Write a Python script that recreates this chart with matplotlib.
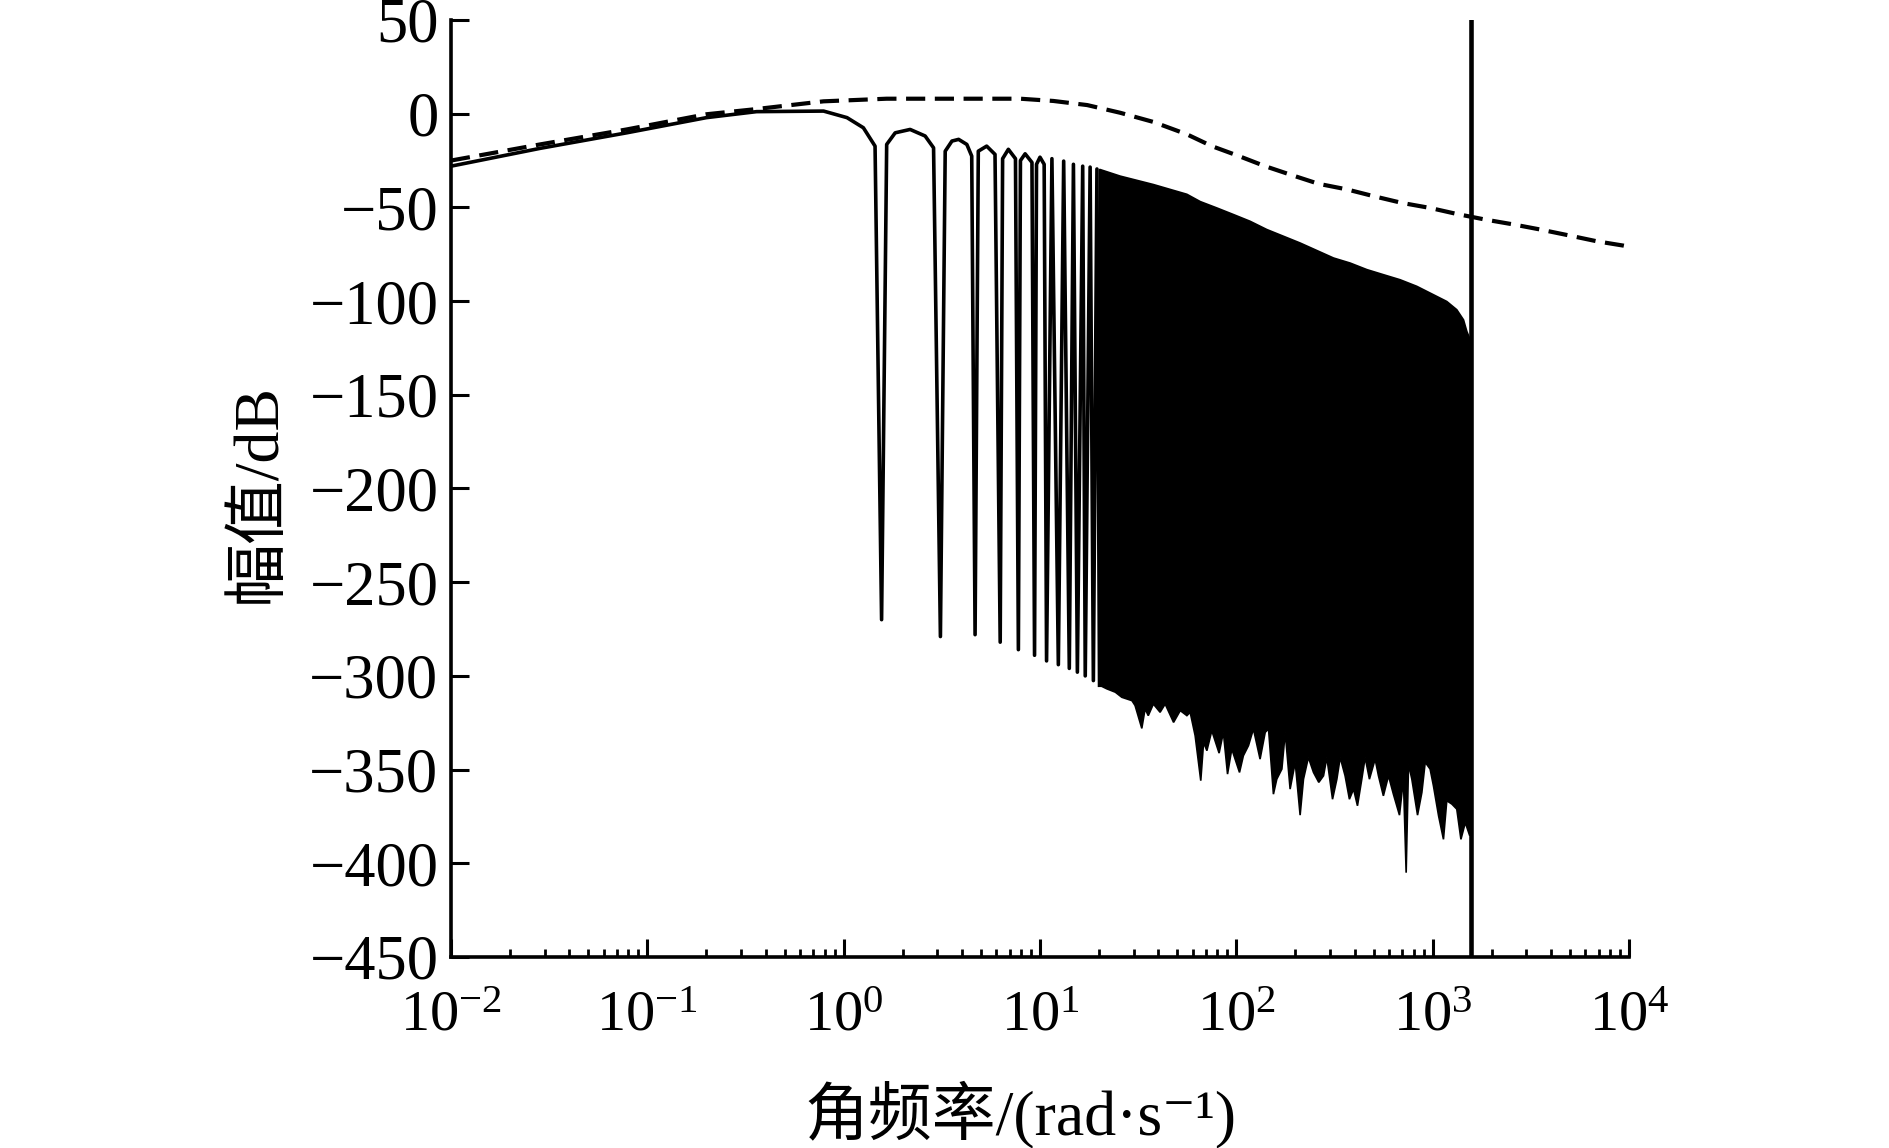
import numpy as np
import matplotlib.pyplot as plt

plt.rcParams['font.family'] = ['Liberation Serif', 'Noto Sans CJK SC', 'DejaVu Serif']
plt.rcParams['mathtext.fontset'] = 'custom'
plt.rcParams['mathtext.rm'] = 'Liberation Serif'
plt.rcParams['mathtext.it'] = 'Liberation Serif:italic'
plt.rcParams['axes.unicode_minus'] = True

# 虚线 (角频率 rad/s, 幅值 dB)
dash_w = [0.01, 0.0284, 0.0785, 0.20, 0.347, 0.789, 1.656, 3.62, 7.93, 11.7, 17.4,
          25.6, 37.8, 56.0, 75.0, 103, 140, 192, 262, 366, 500, 697, 971, 1327,
          1854, 2582, 3532, 4920, 6870, 9380, 10000]
dash_db = [-25, -16.4, -8.4, -0.3, 2.3, 6.6, 8.0, 8.0, 8.0, 6.8, 4.6,
           0.5, -4.4, -11, -17.3, -22.6, -28.0, -32.8, -37.4, -40.4, -44.0, -47.6, -50.3, -53.5,
           -56.5, -59.1, -61.8, -64.9, -68.1, -70.4, -71]

# 实线: 低频段及前几个陷波
solid_w = [0.01, 0.0284, 0.0785, 0.200, 0.36, 0.79, 1.04, 1.26, 1.445, 1.56,
           1.656, 1.83, 2.18, 2.60, 2.87, 3.11,
           3.29, 3.56, 3.85, 4.24, 4.49, 4.67,
           4.85, 5.35, 5.9, 6.27,
           6.45, 6.9, 7.5, 7.76,
           7.95, 8.4, 9.1, 9.38,
           9.6, 10.0, 10.5, 10.8,
           11.5, 12.4, 13.2, 14.1, 14.8, 15.5, 16.5, 17.0, 18.0, 18.7, 19.5, 20.1]
solid_db = [-28, -18.5, -10.2, -2.1, 1.1, 1.4, -2.1, -7.5, -17.3, -270,
            -16.4, -10.2, -8.4, -11.9, -18.2, -279,
            -20, -14.6, -13.7, -16.4, -22.6, -278,
            -20, -17.3, -21.7, -282,
            -24, -19, -24, -286,
            -25, -21.4, -26, -289,
            -27, -23.2, -27, -292,
            -24, -294, -25.3, -296, -27, -298, -28, -300, -28.5, -302.5, -29.5, -305]

# 实线密集区: 上包络
env_w = [20.1, 25.6, 37.8, 56.0, 65.5, 79.6, 96.6, 117.5, 142.9, 173.8, 211.3, 257.0,
         312.6, 380.0, 462.2, 561.0, 682.3, 829.6, 1009, 1180, 1327, 1436, 1493, 1545]
env_db = [-29.7, -33.3, -37.8, -43, -46.9, -50.3, -53.8, -57.4, -61.8, -65.4, -69.0, -73.0,
          -77.0, -79.7, -83.2, -85.9, -88.6, -92.1, -96.6, -100.2, -104.6, -110, -116.2, -120]

# 实线密集区: 下边缘
low_w = [20.2, 21.9, 24.2, 26.1, 29.4, 30.5, 33.0, 34.3, 35.6, 37.8, 40.9, 43.4,
         47.9, 51.8, 56.0, 58.2, 61.7, 65.9, 68.1, 70.8, 75.0, 81.7, 85.9, 90.2,
         94.8, 103.8, 108.6, 115.3, 122.2, 132.1, 140.3, 145.9, 154.5, 160.7, 170.6,
         177.4, 187.9, 199.5, 211.3, 219.8, 232.8, 247.2, 263.0, 278.0, 289.1, 309.0,
         325.1, 338.1, 358.1, 376.7, 395.4, 414.0, 435.5, 452.9, 476.4, 509.3, 529.6,
         561.0, 595.7, 631.0, 677.6, 709.6, 732.8, 753.4, 783.4, 837.5, 881.0, 916.2,
         970.5, 1009, 1072, 1135, 1180, 1253, 1327, 1393, 1466, 1545]
low_db = [-305.1, -306.9, -308.7, -311.4, -313.2, -315.8, -328.0, -317.6, -321.2,
          -315.0, -319.4, -315.0, -324.8, -318.5, -321.2, -319.4, -331.9, -355.9,
          -335.5, -339.9, -329.2, -341.2, -330.1, -352.4, -339.0, -351.5, -342.6,
          -337.2, -328.3, -344.4, -330.1, -328.3, -363.1, -355.1, -349.7, -330.1,
          -360.4, -346.1, -374.3, -355.1, -343.5, -351.5, -356.8, -353.3, -343.5,
          -365.8, -355.1, -343.5, -353.3, -365.8, -360.4, -369.3, -355.1, -343.5,
          -355.1, -344.4, -353.3, -364.0, -353.3, -363.1, -374.3, -355.1, -405.0,
          -347.1, -355.1, -374.3, -362.2, -346.1, -349.7, -358.6, -374.7, -387.2,
          -366.6, -368.4, -371.1, -387.2, -378.3, -385.3]

nyquist_w = 1560

fig = plt.figure(figsize=(18.89, 11.48), dpi=100)
ax = fig.add_axes([451 / 1889, 191 / 1148, 1178 / 1889, 937 / 1148])

ax.plot(dash_w, dash_db, color='k', lw=3.0, linestyle=(0, (4.6, 2.3)))
ax.plot(solid_w, solid_db, color='k', lw=2.6)
ax.fill(np.concatenate([env_w, low_w[::-1]]), np.concatenate([env_db, low_db[::-1]]),
        facecolor='k', edgecolor='k', lw=1.2)
ax.axvline(nyquist_w, color='k', lw=3.3)

ax.set_xscale('log')
ax.set_xlim(1e-2, 1e4)
ax.set_ylim(-450, 50)
ax.set_yticks(np.arange(-450, 51, 50))

for s in ['top', 'right']:
    ax.spines[s].set_visible(False)
for s in ['left', 'bottom']:
    ax.spines[s].set_linewidth(2.6)

ax.tick_params(axis='both', which='major', direction='in', length=13, width=2.2)
ax.tick_params(axis='x', which='minor', direction='in', length=6, width=2)
ax.tick_params(axis='y', labelsize=45, pad=9)
ax.tick_params(axis='x', labelsize=42, pad=24)

ax.set_ylabel('幅值/dB', fontsize=46, va='center')
ax.yaxis.set_label_coords(-0.163, 0.495)
ax.set_xlabel('角频率/(rad·s⁻¹)', fontsize=46, va='center')
ax.xaxis.set_label_coords(0.483, -0.168)

plt.savefig('out.png', dpi=100)
